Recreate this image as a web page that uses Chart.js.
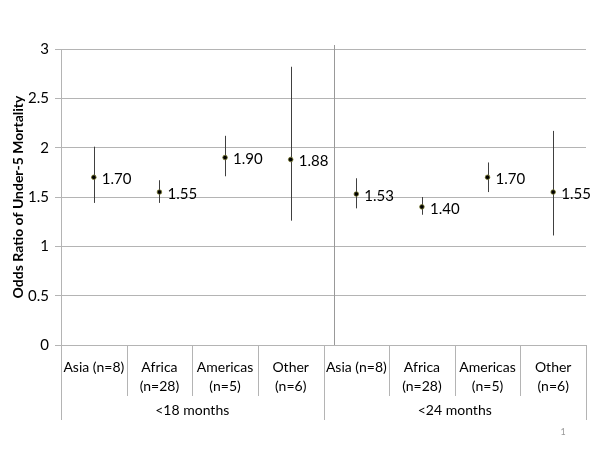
<!DOCTYPE html>
<html>
<head>
<meta charset="utf-8">
<script src="https://cdn.jsdelivr.net/npm/chart.js@4.4.1/dist/chart.umd.min.js"></script>
<style>
  body { margin: 0; background: #fff; }
  #wrap { width: 600px; height: 450px; }
</style>
</head>
<body>
<div id="wrap"><canvas id="myChart"></canvas></div>
<script>
const regions = ['Asia (n=8)', ['Africa', '(n=28)'], ['Americas', '(n=5)'], ['Other', '(n=6)'],
                 'Asia (n=8)', ['Africa', '(n=28)'], ['Americas', '(n=5)'], ['Other', '(n=6)']];
const groups = ['<18 months', '<24 months'];
const oddsRatio = [1.70, 1.55, 1.90, 1.88, 1.53, 1.40, 1.70, 1.55];
const lowerCI = [1.44, 1.44, 1.71, 1.26, 1.385, 1.32, 1.55, 1.11];
const upperCI = [2.01, 1.67, 2.12, 2.82, 1.69, 1.50, 1.85, 2.17];
const yTicks = [0, 0.5, 1, 1.5, 2, 2.5, 3];
const yTickLabels = ['0', '0.5', '1', '1.5', '2', '2.5', '3'];

const FONT = 'Lato, "Open Sans", sans-serif';
const gridColor = '#b4b4b4';

const extras = {
  id: 'extras',
  beforeDatasetsDraw(chart) {
    const { ctx, scales: { x, y } } = chart;
    ctx.save();
    ctx.strokeStyle = '#404040';
    ctx.lineWidth = 1;
    oddsRatio.forEach((v, i) => {
      const px = Math.round(x.getPixelForValue(i)) + 0.5;
      ctx.beginPath();
      ctx.moveTo(px, y.getPixelForValue(upperCI[i]));
      ctx.lineTo(px, y.getPixelForValue(lowerCI[i]));
      ctx.stroke();
    });
    // divider line between the two periods
    ctx.strokeStyle = '#999';
    const dx = Math.round(x.getPixelForValue(3.66)) + 0.5;
    ctx.beginPath();
    ctx.moveTo(dx, chart.chartArea.top - 4);
    ctx.lineTo(dx, chart.chartArea.bottom);
    ctx.stroke();
    ctx.restore();
  },
  afterDatasetsDraw(chart) {
    const { ctx, scales: { x, y } } = chart;
    const bottom = chart.chartArea.bottom;
    ctx.save();
    ctx.fillStyle = '#000';
    ctx.font = '15px ' + FONT;
    ctx.textBaseline = 'middle';
    ctx.textAlign = 'left';
    oddsRatio.forEach((v, i) => {
      ctx.fillText(v.toFixed(2), x.getPixelForValue(i) + 8, y.getPixelForValue(v) + 2);
    });

    // category separators and group labels
    ctx.strokeStyle = gridColor;
    ctx.lineWidth = 1;
    for (let i = 0; i <= regions.length; i++) {
      const px = Math.round(x.getPixelForValue(i - 0.5)) + 0.5;
      const end = (i % 4 === 0) ? 420 : 396;
      ctx.beginPath();
      ctx.moveTo(px, bottom);
      ctx.lineTo(px, end);
      ctx.stroke();
    }
    ctx.textAlign = 'center';
    ctx.font = '14px ' + FONT;
    groups.forEach((g, k) => {
      const a = x.getPixelForValue(k * 4 - 0.5);
      const b = x.getPixelForValue(k * 4 + 3.5);
      ctx.fillText(g, (a + b) / 2, 410);
    });

    ctx.fillStyle = '#999';
    ctx.font = '9px ' + FONT;
    ctx.fillText('1', 563, 432);
    ctx.restore();
  }
};

const ctx = document.getElementById('myChart');

new Chart(ctx, {
  type: 'line',
  data: {
    labels: regions,
    datasets: [{
      label: 'Odds ratio',
      data: oddsRatio,
      showLine: false,
      pointRadius: 2.3,
      pointBackgroundColor: '#000',
      pointBorderColor: '#7a7a30',
      pointBorderWidth: 0.8
    }]
  },
  options: {
    responsive: true,
    maintainAspectRatio: false,
    animation: false,
    layout: { padding: { top: 49, right: 14, left: 0, bottom: 0 } },
    plugins: {
      legend: { display: false },
      tooltip: { enabled: false }
    },
    scales: {
      x: {
        type: 'category',
        offset: true,
        grid: { display: false },
        border: { display: true, color: gridColor },
        ticks: {
          color: '#000',
          font: { family: FONT, size: 14, lineHeight: 1.35 },
          padding: 5,
          maxRotation: 0,
          autoSkip: false
        },
        afterFit(scale) { scale.height = 105; }
      },
      y: {
        min: 0,
        max: 3,
        afterBuildTicks(scale) { scale.ticks = yTicks.map(v => ({ value: v })); },
        grid: { color: gridColor, tickLength: 6 },
        border: { color: gridColor },
        ticks: {
          color: '#000',
          font: { family: FONT, size: 15 },
          padding: 6,
          callback: (v, i) => yTickLabels[i]
        },
        title: {
          display: true,
          text: 'Odds Ratio of Under-5 Mortality',
          color: '#000',
          font: { family: FONT, size: 14, weight: 'bold' },
          padding: { top: 10, bottom: 0 }
        },
        afterFit(scale) { scale.width = 61; }
      }
    }
  },
  plugins: [extras]
});
</script>
</body>
</html>
